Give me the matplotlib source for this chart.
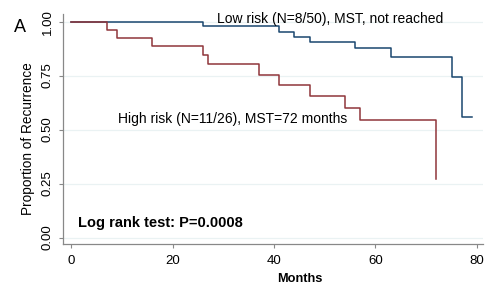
import matplotlib
matplotlib.use("Agg")
import matplotlib.pyplot as plt

plt.rcParams['font.family'] = ['Liberation Sans', 'DejaVu Sans']

# Kaplan-Meier step data (months, proportion)
low_t = [0, 26, 41, 44, 47, 56, 63, 75, 77, 79]
low_s = [1.0, 0.98, 0.95, 0.927, 0.905, 0.88, 0.838, 0.745, 0.56, 0.56]
high_t = [0, 7, 9, 16, 26, 27, 37, 41, 47, 54, 57, 72]
high_s = [1.0, 0.962, 0.923, 0.885, 0.846, 0.805, 0.752, 0.705, 0.655, 0.60, 0.545, 0.272]

xticks = [0, 20, 40, 60, 80]
yticks = [0.0, 0.25, 0.5, 0.75, 1.0]
ytick_labels = ["0.00", "0.25", "0.50", "0.75", "1.00"]

low_label = "Low risk (N=8/50), MST, not reached"
high_label = "High risk (N=11/26), MST=72 months"
test_label = "Log rank test: P=0.0008"

fig = plt.figure(figsize=(5, 2.93), dpi=100)
ax = fig.add_axes([0.126, 0.167, 0.84, 0.785])

ax.step(low_t, low_s, where='post', color='#1a476f', lw=1.1)
ax.step(high_t, high_s, where='post', color='#90353b', lw=1.1)

ax.set_xlim(-1.6, 81.2)
ax.set_ylim(-0.03, 1.035)
ax.set_xticks(xticks)
ax.set_yticks(yticks)
ax.set_yticklabels(ytick_labels, rotation=90, va='center')
ax.tick_params(labelsize=9.5, colors='#000000', length=3, width=0.8)
ax.tick_params(axis='both', color='#888888')
ax.tick_params(axis='x', pad=5)

for g in yticks:
    ax.axhline(g, color='#eaf2f3', lw=0.9, zorder=0)

for s in ['top', 'right']:
    ax.spines[s].set_visible(False)
for s in ['left', 'bottom']:
    ax.spines[s].set_color('#888888')
    ax.spines[s].set_linewidth(0.9)

ax.set_ylabel("Proportion of Recurrence", fontsize=9.8)
ax.yaxis.set_label_coords(-0.066, 0.457)
ax.set_xlabel("Months", fontsize=9.2, fontweight='bold')
ax.xaxis.set_label_coords(0.564, -0.126)

ax.text(28.7, 1.012, low_label, fontsize=10, va='center', ha='left')
ax.text(9.3, 0.548, high_label, fontsize=10, va='center', ha='left')
ax.text(1.4, 0.068, test_label, fontsize=10.5, fontweight='bold', va='center', ha='left')

fig.text(0.028, 0.905, "A", fontsize=13, va='center', ha='left')

fig.savefig("out.png", dpi=100)
